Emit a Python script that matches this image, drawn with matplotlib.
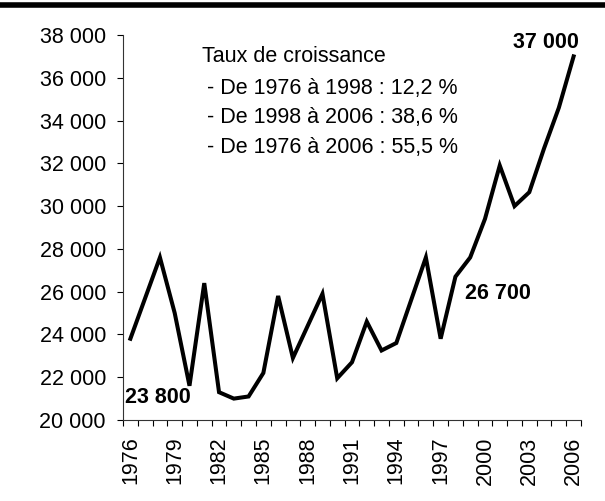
import matplotlib
matplotlib.use("Agg")
import matplotlib.pyplot as plt
from matplotlib.lines import Line2D
from matplotlib.ticker import FuncFormatter, FixedLocator

plt.rcParams['font.family'] = ['Liberation Sans', 'DejaVu Sans']

years = list(range(1976, 2007))
values = [23800, 25700, 27600, 25000, 21600, 26400, 21300, 21000, 21100, 22200,
          25800, 22900, 24400, 25900, 21950, 22700, 24600, 23250, 23600, 25600,
          27600, 23800, 26700, 27600, 29400, 31900, 30000, 30650, 32700, 34600,
          37000]
label_years = [1976, 1979, 1982, 1985, 1988, 1991, 1994, 1997, 2000, 2003, 2006]
yticks = [20000, 22000, 24000, 26000, 28000, 30000, 32000, 34000, 36000, 38000]
title_text = "Taux de croissance"
growth_lines = ["- De 1976 à 1998 : 12,2 %",
                "- De 1998 à 2006 : 38,6 %",
                "- De 1976 à 2006 : 55,5 %"]
highlights = {1976: "23 800", 1998: "26 700", 2006: "37 000"}

W, H = 605, 501
fig = plt.figure(figsize=(W / 100, H / 100), dpi=100)
x0, x1 = 123, 581
ytop, ybot = 35, 420
ax = fig.add_axes([x0 / W, (H - ybot) / H, (x1 - x0) / W, (ybot - ytop) / H])

idx = list(range(len(years)))
ax.plot(idx, values, color='black', lw=2.9, solid_joinstyle='miter')

ax.set_xlim(-0.5, len(years) - 0.5)
ax.set_ylim(yticks[0], yticks[-1])

fs = 15.5
ax.set_yticks(yticks)
ax.yaxis.set_major_formatter(FuncFormatter(lambda v, p: f"{int(v):,}".replace(",", " ")))
ax.tick_params(axis='y', direction='out', length=4.3, width=0.8, pad=8, labelsize=fs)

ax.set_xticks([years.index(y) for y in label_years])
ax.set_xticklabels([str(y) for y in label_years], rotation=90, fontsize=fs)
ax.xaxis.set_minor_locator(FixedLocator([i - 0.5 for i in range(len(years) + 1)]))
ax.tick_params(axis='x', which='major', length=0, pad=12)
ax.tick_params(axis='x', which='minor', direction='out', length=4.3, width=0.8)

for s in ['top', 'right']:
    ax.spines[s].set_visible(False)
for s in ['left', 'bottom']:
    ax.spines[s].set_linewidth(0.8)
    ax.spines[s].set_color('#333333')

# Growth rate text
ax.text(0.172, 0.944, title_text, transform=ax.transAxes, fontsize=fs,
        ha='left', va='center')
for i, t in enumerate(growth_lines):
    ax.text(0.183, 0.862 - i * 0.077, t, transform=ax.transAxes, fontsize=fs,
            ha='left', va='center')

offsets = {1976: (19.7, -42.6), 1998: (30.7, -12.4), 2006: (-19.7, 9.8)}
for yr, lab in highlights.items():
    i = years.index(yr)
    ax.annotate(lab, xy=(i, values[i]), xytext=offsets[yr], textcoords='offset points',
                ha='center', va='center', fontsize=fs, fontweight='bold')

fig.add_artist(Line2D([0, 1], [1 - 5 / H, 1 - 5 / H], transform=fig.transFigure,
                      color='black', lw=4.0))

fig.savefig("out.png", dpi=100)
